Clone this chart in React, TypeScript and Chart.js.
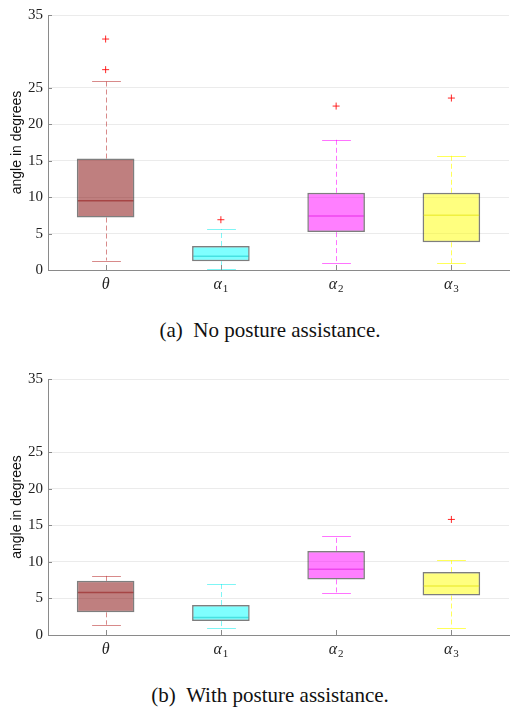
import React, { useEffect, useRef } from 'react';
import { Chart, registerables } from 'chart.js';

Chart.register(...registerables);

// ---- data ----
const CATEGORIES = ['θ', 'α1', 'α2', 'α3'];
const CATEGORY_SYMBOLS = ['θ', 'α', 'α', 'α'];
const CATEGORY_SUBS = ['', '1', '2', '3'];
const Y_TICKS = [0, 5, 10, 15, 20, 25, 35];

// (a) No posture assistance
const A_Q1 = [7.2, 1.2, 5.2, 3.8];
const A_Q3 = [15.3, 3.3, 10.6, 10.6];
const A_MEDIAN = [9.5, 1.9, 7.4, 7.5];
const A_WHISKER_LOW = [1.3, 0.1, 0.9, 0.9];
const A_WHISKER_HIGH = [25.9, 5.6, 17.9, 15.7];
const A_OUTLIER_CATEGORY = ['θ', 'θ', 'α1', 'α2', 'α3'];
const A_OUTLIER_VALUE = [31.7, 27.5, 6.9, 22.5, 23.6];

// (b) With posture assistance
const B_Q1 = [3.1, 1.9, 7.6, 5.4];
const B_Q3 = [7.4, 4.1, 11.5, 8.6];
const B_MEDIAN = [5.8, 2.4, 9.0, 6.7];
const B_WHISKER_LOW = [1.4, 1.0, 5.7, 1.0];
const B_WHISKER_HIGH = [8.1, 7.0, 13.6, 10.2];
const B_OUTLIER_CATEGORY = ['α3'];
const B_OUTLIER_VALUE = [15.8];

const CAPTION_A = '(a)\u2002No posture assistance.';
const CAPTION_B = '(b)\u2002With posture assistance.';

// ---- styles ----
const BOX_FILLS = ['rgba(128,0,0,0.5)', 'rgba(0,255,255,0.5)', 'rgba(255,0,255,0.5)', 'rgba(255,255,0,0.5)'];
const MEDIAN_COLORS = ['rgba(150,30,30,0.6)', 'rgba(0,190,190,0.45)', 'rgba(220,0,220,0.45)', 'rgba(225,225,0,0.5)'];
const WHISKER_COLORS = ['rgba(190,60,60,0.6)', 'rgba(0,235,235,0.5)', 'rgba(255,0,255,0.55)', 'rgba(255,255,0,0.65)'];
const SERIF = '"Liberation Serif", "Times New Roman", serif';

const boxExtras = {
  id: 'boxExtras',
  beforeDatasetsDraw(chart: any, _args: any, opts: any) {
    const { ctx, scales } = chart;
    const x = scales.x, y = scales.y;
    const cw = x.width / CATEGORIES.length;
    ctx.save();
    ctx.lineWidth = 1;
    (opts.lo as number[]).forEach((lo: number, i: number) => {
      const cx = Math.round(x.getPixelForValue(i)) + 0.5;
      const capHalf = cw * 0.125;
      ctx.strokeStyle = WHISKER_COLORS[i];
      ctx.setLineDash([5, 3]);
      ctx.beginPath();
      ctx.moveTo(cx, y.getPixelForValue(opts.q3[i]));
      ctx.lineTo(cx, y.getPixelForValue(opts.hi[i]));
      ctx.moveTo(cx, y.getPixelForValue(opts.q1[i]));
      ctx.lineTo(cx, y.getPixelForValue(lo));
      ctx.stroke();
      ctx.setLineDash([]);
      ctx.beginPath();
      const yh = Math.round(y.getPixelForValue(opts.hi[i])) + 0.5;
      const yl = Math.round(y.getPixelForValue(lo)) + 0.5;
      ctx.moveTo(cx - capHalf, yh);
      ctx.lineTo(cx + capHalf, yh);
      ctx.moveTo(cx - capHalf, yl);
      ctx.lineTo(cx + capHalf, yl);
      ctx.stroke();
    });
    ctx.restore();
  },
  afterDatasetsDraw(chart: any, _args: any, opts: any) {
    const { ctx, scales } = chart;
    const x = scales.x, y = scales.y;
    const cw = x.width / CATEGORIES.length;
    ctx.save();
    ctx.lineWidth = 1.5;
    (opts.med as number[]).forEach((m: number, i: number) => {
      const cx = x.getPixelForValue(i);
      const ym = y.getPixelForValue(m);
      ctx.strokeStyle = MEDIAN_COLORS[i];
      ctx.beginPath();
      ctx.moveTo(cx - cw * 0.25 + 1, ym);
      ctx.lineTo(cx + cw * 0.25 - 1, ym);
      ctx.stroke();
    });
    ctx.restore();
  },
  afterDraw(chart: any) {
    const { ctx, scales, chartArea } = chart;
    const x = scales.x, y = scales.y;
    ctx.save();
    // inner tick marks
    ctx.strokeStyle = '#8a8a8a';
    ctx.lineWidth = 1;
    ctx.beginPath();
    Y_TICKS.forEach((v) => {
      const py = Math.round(y.getPixelForValue(v)) + 0.5;
      ctx.moveTo(chartArea.left, py);
      ctx.lineTo(chartArea.left + 4, py);
    });
    CATEGORIES.forEach((_c, i) => {
      const px = Math.round(x.getPixelForValue(i)) + 0.5;
      ctx.moveTo(px, chartArea.bottom);
      ctx.lineTo(px, chartArea.bottom - 5);
    });
    ctx.stroke();
    // category labels
    ctx.fillStyle = '#222';
    ctx.textBaseline = 'middle';
    ctx.textAlign = 'left';
    CATEGORIES.forEach((_c, i) => {
      const px = x.getPixelForValue(i);
      const mainFont = 'italic 16px ' + SERIF;
      const subFont = '11px ' + SERIF;
      ctx.font = mainFont;
      const w1 = ctx.measureText(CATEGORY_SYMBOLS[i]).width;
      ctx.font = subFont;
      const w2 = CATEGORY_SUBS[i] ? ctx.measureText(CATEGORY_SUBS[i]).width + 1 : 0;
      const start = px - (w1 + w2) / 2;
      const ly = chartArea.bottom + 15;
      ctx.font = mainFont;
      ctx.fillText(CATEGORY_SYMBOLS[i], start, ly);
      if (CATEGORY_SUBS[i]) {
        ctx.font = subFont;
        ctx.fillText(CATEGORY_SUBS[i], start + w1 + 1, ly + 4);
      }
    });
    ctx.restore();
  },
};

type BoxProps = {
  q1: number[]; q3: number[]; med: number[]; lo: number[]; hi: number[];
  outCat: string[]; outVal: number[];
  height: number; plotHeight: number;
};

function BoxChart(props: BoxProps) {
  const ref = useRef<HTMLCanvasElement>(null);
  useEffect(() => {
    const { q1, q3, med, lo, hi, outCat, outVal, height, plotHeight } = props;
    const topPad = 15;
    const chart = new Chart(ref.current as HTMLCanvasElement, {
      type: 'bar',
      data: {
        labels: CATEGORIES,
        datasets: [
          {
            type: 'bar',
            data: q1.map((v, i) => [v, q3[i]]) as any,
            backgroundColor: BOX_FILLS,
            borderColor: 'rgba(40,40,40,0.6)',
            borderWidth: 1.5,
            borderSkipped: false,
            barPercentage: 0.5,
            categoryPercentage: 1,
          } as any,
          {
            type: 'scatter',
            data: outCat.map((c, i) => ({ x: c, y: outVal[i] })) as any,
            pointStyle: 'cross',
            radius: 3.5,
            borderColor: 'rgba(255,0,0,0.85)',
            backgroundColor: 'rgba(255,0,0,0.85)',
            borderWidth: 1,
          } as any,
        ],
      },
      options: {
        responsive: false,
        animation: false,
        layout: { padding: { top: topPad, left: 0, right: 0, bottom: 0 } },
        plugins: {
          legend: { display: false },
          tooltip: { enabled: false },
          boxExtras: { q1, q3, med, lo, hi },
        } as any,
        scales: {
          x: {
            type: 'category',
            offset: true,
            grid: { display: false },
            border: { display: true, color: '#8a8a8a', width: 1 },
            ticks: { display: false },
            afterFit: (s: any) => { s.height = height - topPad - plotHeight; },
          },
          y: {
            type: 'linear',
            min: 0,
            max: 35,
            grid: { color: '#ebebeb', drawTicks: false, lineWidth: 1 },
            border: { display: true, color: '#8a8a8a', width: 1 },
            ticks: {
              padding: 5,
              color: '#222',
              font: { family: SERIF, size: 15 },
            },
            afterBuildTicks: (s: any) => { s.ticks = Y_TICKS.map((v) => ({ value: v })); },
            title: {
              display: true,
              text: 'angle in degrees',
              color: '#111',
              font: { family: '"Liberation Sans", Arial, sans-serif', size: 14 },
              padding: { top: 9, bottom: 0 },
            },
            afterFit: (s: any) => { s.width = 48; },
          },
        } as any,
      },
      plugins: [boxExtras as any],
    });
    return () => chart.destroy();
  }, []);
  return <canvas ref={ref} width={514} height={props.height} style={{ width: 514, height: props.height, display: 'block' }} />;
}

const captionStyle: React.CSSProperties = {
  position: 'absolute',
  left: 0,
  width: 540,
  textAlign: 'center',
  fontFamily: SERIF,
  fontSize: 21,
  lineHeight: '22px',
  color: '#111',
  whiteSpace: 'pre',
};

export default function App() {
  useEffect(() => {
    document.body.style.margin = '0';
  }, []);
  return (
    <div style={{ position: 'relative', width: 514, height: 709, background: '#fff', overflow: 'hidden' }}>
      <div style={{ position: 'absolute', left: 0, top: 0 }}>
        <BoxChart q1={A_Q1} q3={A_Q3} med={A_MEDIAN} lo={A_WHISKER_LOW} hi={A_WHISKER_HIGH}
          outCat={A_OUTLIER_CATEGORY} outVal={A_OUTLIER_VALUE} height={300} plotHeight={255} />
      </div>
      <div style={{ ...captionStyle, top: 319 }}>{CAPTION_A}</div>
      <div style={{ position: 'absolute', left: 0, top: 364 }}>
        <BoxChart q1={B_Q1} q3={B_Q3} med={B_MEDIAN} lo={B_WHISKER_LOW} hi={B_WHISKER_HIGH}
          outCat={B_OUTLIER_CATEGORY} outVal={B_OUTLIER_VALUE} height={300} plotHeight={256} />
      </div>
      <div style={{ ...captionStyle, top: 684 }}>{CAPTION_B}</div>
    </div>
  );
}
